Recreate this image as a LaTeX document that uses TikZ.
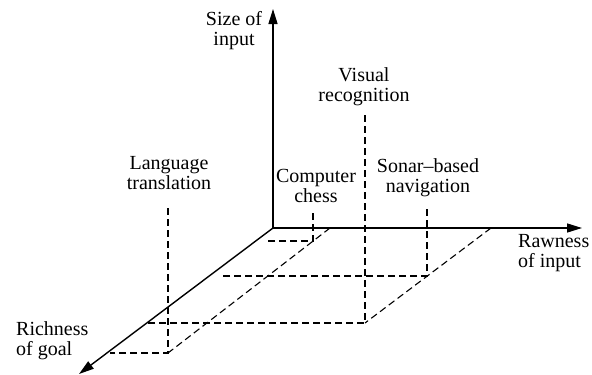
\documentclass[tikz,border=0pt]{standalone}
\usepackage{fontspec}
\setmainfont{Liberation Serif}
\usetikzlibrary{arrows.meta}
\begin{document}
\begin{tikzpicture}[x=1pt,y=-1pt,
  axis/.style={line width=1.4pt,-{Triangle[length=15pt,width=9pt]}},
  proj/.style={line width=1.1pt,dash pattern=on 7pt off 4pt},
  lbl/.style={font=\fontsize{20}{20}\selectfont,inner sep=0pt,align=center},
  lbll/.style={font=\fontsize{20}{20}\selectfont,inner sep=0pt,align=left}]
\useasboundingbox (0,0) rectangle (592,375);
% axes
\coordinate (O) at (273,228);
\coordinate (ytip) at (273,9);
\coordinate (xtip) at (582,228);
\coordinate (ztip) at (79,374);
\draw[axis] (O) -- (ytip);
\draw[axis] (O) -- (xtip);
\draw[axis] (O) -- (ztip);
% projection points
\coordinate (d1) at (330,228);
\coordinate (d2) at (491,228);
\coordinate (chess) at (313,241);
\coordinate (lang) at (168,353);
\coordinate (sonar) at (427,276);
\coordinate (vis) at (365,323);
\coordinate (chessT) at (313,213);
\coordinate (langT) at (168,208);
\coordinate (sonarT) at (427,209);
\coordinate (visT) at (365,115);
\coordinate (chessL) at (268,241);
\coordinate (langL) at (110,353);
\coordinate (sonarL) at (220,276);
\coordinate (visL) at (148,323);
\draw[proj] (d1) -- (lang);
\draw[proj] (d2) -- (vis);
\draw[proj] (chessT) -- (chess) -- (chessL);
\draw[proj] (langT) -- (lang) -- (langL);
\draw[proj] (sonarT) -- (sonar) -- (sonarL);
\draw[proj] (visT) -- (vis) -- (visL);
% labels
\node[lbl] (tsize) at (234,31) {Size of\\input};
\node[lbl] (tvis) at (364,87) {Visual\\recognition};
\node[lbl] (tlang) at (169,173) {Language\\translation};
\node[lbl] (tchess) at (316,186) {Computer\\chess};
\node[lbl] (tsonar) at (428,178) {Sonar--based\\navigation};
\node[lbll,anchor=west] (traw) at (518,253) {Rawness\\of input};
\node[lbll,anchor=west] (trich) at (16,341) {Richness\\of goal};
\end{tikzpicture}
\end{document}
